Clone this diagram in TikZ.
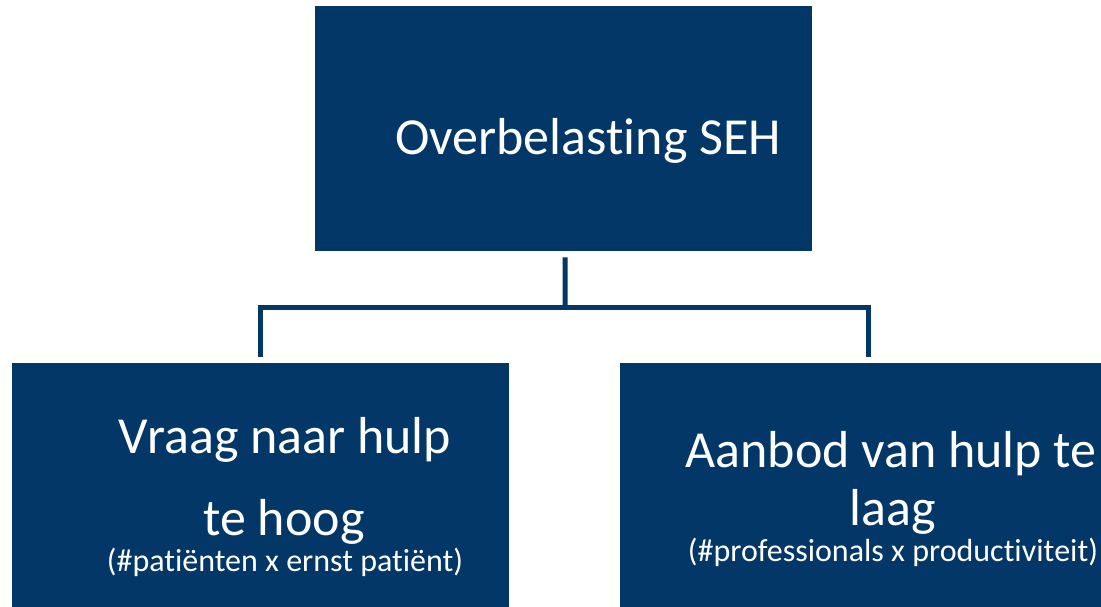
\documentclass[tikz,border=0pt]{standalone}
\usepackage{fontspec}
\setmainfont{Carlito}[Ligatures={NoCommon,NoContextual,NoRare}]
\definecolor{navy}{RGB}{3,55,104}
\begin{document}
\begin{tikzpicture}[x=1pt,y=-1pt,
  box/.style={fill=navy, draw=none, minimum width=497pt, minimum height=245pt, inner sep=0pt, anchor=north west},
  big/.style={text=white, font=\fontsize{52}{60}\selectfont, anchor=base, inner sep=0pt},
  small/.style={text=white, font=\fontsize{32}{38}\selectfont, anchor=base, inner sep=0pt},
  conn/.style={draw=navy, line width=5pt}]
\useasboundingbox (0,0) rectangle (1101,607);
\clip (0,0) rectangle (1101,607);
\node[box] (top) at (315,6) {};
\node[box] (left) at (12,363) {};
\node[box] (right) at (620,363) {};
\coordinate (hub) at (565,307);
\draw[conn] ([xshift=1.5pt,yshift=-6pt]top.south) -- (hub);
\draw[conn] ([yshift=6pt]left.north) |- (hub) -| ([yshift=6pt]right.north);
\node[big] (t0) at (588,155) {Overbelast\kern0pt ing SEH};
\node[big] (l1) at (285,453) {Vraag naar hulp};
\node[big] (l2) at (284,535) {te hoog};
\node[small] (l3) at (285,571) {(\#pat\kern0pt iënten x ernst pat\kern0pt iënt)};
\node[big] (r1) at (891,467) {Aanbod van hulp te};
\node[big] (r2) at (893,525) {laag};
\node[small] (r3) at (893,561) {(\#professionals x product\kern0pt ivit\kern0pt eit)};
\end{tikzpicture}
\end{document}
